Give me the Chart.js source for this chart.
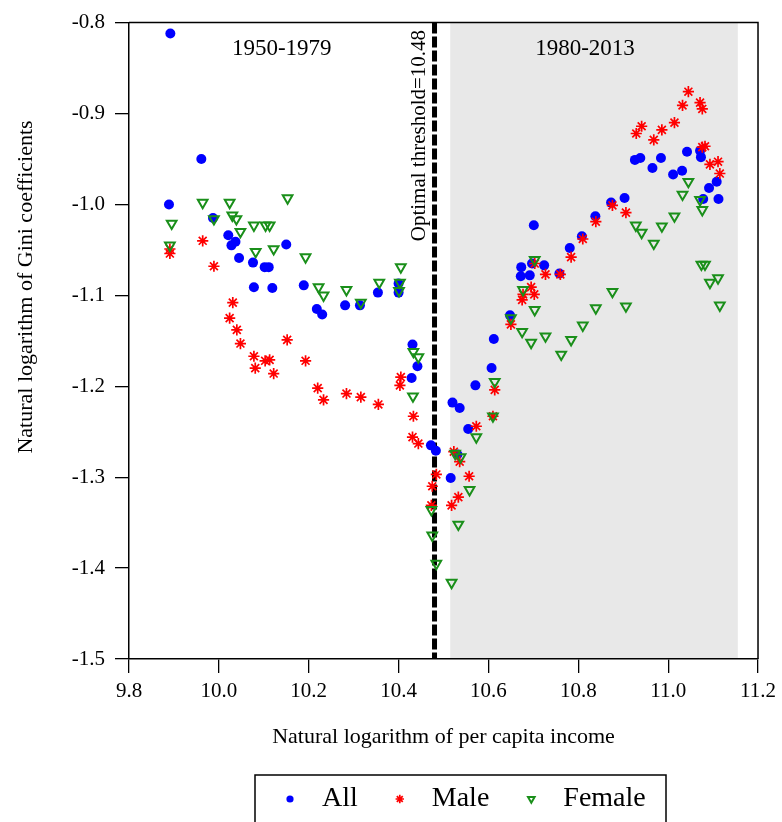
<!DOCTYPE html>
<html lang="en">
<head>
    <meta charset="UTF-8">
    <title>Gini coefficients and per capita income</title>
    <script src="https://cdnjs.cloudflare.com/ajax/libs/Chart.js/4.4.1/chart.umd.min.js"></script>
    <style>
        body {
            margin: 0;
            background: #ffffff;
        }

        .chart-container {
            position: relative;
            width: 782px;
            height: 822px;
        }
    </style>
</head>
<body>
<div class="chart-container">
    <canvas id="giniChart" width="782" height="822"></canvas>
</div>

<script>
    // ln(per capita income) / ln(Gini) pairs
    const allX = [9.892, 9.961, 9.889, 9.987, 10.021, 10.028, 10.037, 10.150, 10.045, 10.076, 10.102, 10.111, 10.078, 10.119, 10.189, 10.218, 10.230, 10.281, 10.314, 10.354, 10.400, 10.400, 10.431, 10.442, 10.429, 10.472, 10.483,
        10.516, 10.520, 10.536, 10.531, 10.555, 10.571, 10.607, 10.612, 10.648, 10.672, 10.692, 10.673, 10.697, 10.701, 10.724, 10.758, 10.781, 10.808, 10.838, 10.873, 10.903, 10.926, 10.938, 10.965, 10.984, 11.011, 11.031, 11.042, 11.071, 11.073, 11.078, 11.091, 11.108, 11.112];
    const allY = [-0.812, -0.950, -1.000, -1.015, -1.034, -1.045, -1.041, -1.044, -1.059, -1.064, -1.069, -1.069, -1.091, -1.092, -1.089, -1.115, -1.121, -1.111, -1.111, -1.097, -1.087, -1.097, -1.154, -1.178, -1.191, -1.265, -1.271,
        -1.301, -1.218, -1.224, -1.275, -1.247, -1.199, -1.180, -1.148, -1.122, -1.079, -1.078, -1.069, -1.065, -1.023, -1.067, -1.076, -1.048, -1.035, -1.013, -0.998, -0.993, -0.951, -0.949, -0.960, -0.949, -0.967, -0.963, -0.942, -0.941, -0.948, -0.994, -0.982, -0.975, -0.994];

    const maleX = [9.891, 9.891, 9.964, 9.989, 10.031, 10.024, 10.040, 10.048, 10.152, 10.078, 10.081, 10.103, 10.113, 10.122, 10.193, 10.220, 10.233, 10.284, 10.316, 10.355, 10.405, 10.403, 10.433, 10.431, 10.444, 10.484, 10.475, 10.473,
        10.523, 10.536, 10.557, 10.533, 10.518, 10.573, 10.610, 10.614, 10.650, 10.675, 10.677, 10.695, 10.702, 10.703, 10.727, 10.760, 10.784, 10.810, 10.839, 10.876, 10.906, 10.929, 10.941, 10.968, 10.986, 11.014, 11.032, 11.045, 11.071, 11.076, 11.076, 11.082, 11.093, 11.111, 11.115];
    const maleY = [-1.049, -1.054, -1.040, -1.068, -1.108, -1.125, -1.138, -1.153, -1.149, -1.167, -1.180, -1.172, -1.171, -1.186, -1.172, -1.202, -1.215, -1.208, -1.212, -1.220, -1.190, -1.199, -1.233, -1.256, -1.263, -1.297, -1.310, -1.331,
        -1.272, -1.283, -1.299, -1.322, -1.331, -1.244, -1.233, -1.204, -1.132, -1.105, -1.099, -1.091, -1.099, -1.065, -1.077, -1.077, -1.058, -1.038, -1.019, -1.001, -1.009, -0.922, -0.914, -0.929, -0.918, -0.910, -0.891, -0.876, -0.888, -0.895, -0.937, -0.936, -0.956, -0.953, -0.966];

    const femaleX = [9.964, 10.024, 10.153, 9.895, 9.989, 10.030, 10.039, 10.048, 10.078, 10.104, 10.113, 9.891, 10.082, 10.122, 10.193, 10.222, 10.233, 10.284, 10.316, 10.357, 10.405, 10.403, 10.401, 10.433, 10.444, 10.432, 10.473, 10.475, 10.484,
        10.518, 10.533, 10.526, 10.538, 10.558, 10.573, 10.610, 10.614, 10.650, 10.677, 10.703, 10.703, 10.675, 10.695, 10.727, 10.762, 10.784, 10.810, 10.839, 10.876, 10.906, 10.928, 10.941, 10.968, 10.986, 11.014, 11.032, 11.045, 11.071, 11.076, 11.074, 11.082, 11.093, 11.111, 11.115];
    const femaleY = [-0.998, -0.998, -0.993, -1.021, -1.016, -1.012, -1.016, -1.030, -1.023, -1.023, -1.023, -1.045, -1.052, -1.049, -1.058, -1.091, -1.100, -1.094, -1.108, -1.086, -1.069, -1.086, -1.095, -1.162, -1.168, -1.211, -1.336, -1.364, -1.395,
        -1.416, -1.352, -1.274, -1.278, -1.314, -1.256, -1.233, -1.195, -1.125, -1.094, -1.061, -1.116, -1.140, -1.152, -1.145, -1.165, -1.149, -1.133, -1.114, -1.096, -1.112, -1.023, -1.031, -1.043, -1.024, -1.013, -0.989, -0.975, -0.995, -1.006, -1.066, -1.066, -1.086, -1.081, -1.111];

    const xTicks = [9.8, 10.0, 10.2, 10.4, 10.6, 10.8, 11.0, 11.2];
    const yTicks = [-0.8, -0.9, -1.0, -1.1, -1.2, -1.3, -1.4, -1.5];

    const threshold = 10.48;
    const shadeRange = [10.515, 11.155];
    const periodNames = ['1950-1979', '1980-2013'];

    const SERIF = "'Liberation Serif', 'Times New Roman', serif";
    Chart.defaults.font.family = SERIF;
    Chart.defaults.color = '#000';

    function toPoints(xs, ys) {
        return xs.map((x, i) => ({ x: x, y: ys[i] }));
    }

    // shaded period, threshold line, in-plot labels, frame and legend box
    const decorations = {
        id: 'decorations',
        beforeDraw(chart) {
            const { ctx, chartArea: area, scales: { x, y } } = chart;
            ctx.save();

            const x0 = x.getPixelForValue(shadeRange[0]);
            const x1 = x.getPixelForValue(shadeRange[1]);
            ctx.fillStyle = '#e8e8e8';
            ctx.fillRect(x0, area.top, x1 - x0, area.bottom - area.top);

            const tx = x.getPixelForValue(threshold);
            ctx.strokeStyle = '#000';
            ctx.lineWidth = 5;
            ctx.setLineDash([11, 3]);
            ctx.beginPath();
            ctx.moveTo(tx, area.top);
            ctx.lineTo(tx, area.bottom);
            ctx.stroke();
            ctx.setLineDash([]);

            ctx.fillStyle = '#000';
            ctx.font = '23px ' + SERIF;
            ctx.textAlign = 'center';
            ctx.textBaseline = 'alphabetic';
            ctx.fillText(periodNames[0], x.getPixelForValue(10.14), area.top + 32);
            ctx.fillText(periodNames[1], x.getPixelForValue(10.815), area.top + 32);

            // rotated threshold label, just left of the dashed line
            ctx.save();
            ctx.translate(tx - 15, area.top + 113);
            ctx.rotate(-Math.PI / 2);
            ctx.font = '21px ' + SERIF;
            ctx.textBaseline = 'middle';
            ctx.fillText('Optimal threshold=' + threshold.toFixed(2), 0, 0);
            ctx.restore();

            // y axis title
            ctx.save();
            ctx.translate(26, 287);
            ctx.rotate(-Math.PI / 2);
            ctx.font = '22px ' + SERIF;
            ctx.textBaseline = 'middle';
            ctx.fillText('Natural logarithm of Gini coefficients', 0, 0);
            ctx.restore();

            ctx.restore();
        },
        afterDraw(chart) {
            const { ctx, chartArea: area } = chart;
            ctx.save();
            ctx.strokeStyle = '#000';
            ctx.lineWidth = 1.5;
            ctx.beginPath();
            ctx.moveTo(area.left, area.top);
            ctx.lineTo(area.right, area.top);
            ctx.lineTo(area.right, area.bottom);
            ctx.stroke();

            // legend
            ctx.strokeRect(255, 775, 411, 80);
            ctx.font = '28px ' + SERIF;
            ctx.textAlign = 'left';
            ctx.textBaseline = 'alphabetic';
            let mx = 290;
            chart.data.datasets.forEach(ds => {
                ctx.fillStyle = ds.backgroundColor;
                ctx.strokeStyle = ds.borderColor;
                ctx.lineWidth = ds.borderWidth;
                Chart.helpers.drawPoint(ctx, {
                    pointStyle: ds.pointStyle,
                    rotation: ds.rotation || 0,
                    radius: ds.legendRadius,
                    borderWidth: ds.borderWidth
                }, mx, 799);
                ctx.fillStyle = '#000';
                ctx.fillText(ds.label, mx + 32, 806);
                mx += 32 + ctx.measureText(ds.label).width + 42;
            });
            ctx.restore();
        }
    };

    const ctx = document.getElementById('giniChart').getContext('2d');
    new Chart(ctx, {
        type: 'scatter',
        data: {
            datasets: [
                {
                    label: 'All',
                    data: toPoints(allX, allY),
                    pointStyle: 'circle',
                    pointRadius: 5,
                    legendRadius: 3.6,
                    backgroundColor: '#0000ff',
                    borderColor: '#0000ff',
                    borderWidth: 0,
                    order: 3
                },
                {
                    label: 'Male',
                    data: toPoints(maleX, maleY),
                    pointStyle: 'star',
                    pointRadius: 5.6,
                    legendRadius: 4.2,
                    backgroundColor: '#ff0000',
                    borderColor: '#ff0000',
                    borderWidth: 1.7,
                    order: 2
                },
                {
                    label: 'Female',
                    data: toPoints(femaleX, femaleY),
                    pointStyle: 'triangle',
                    rotation: 180,
                    pointRotation: 180,
                    pointRadius: 5.6,
                    legendRadius: 3.8,
                    backgroundColor: 'rgba(0,0,0,0)',
                    borderColor: '#1a8f1a',
                    borderWidth: 2,
                    order: 1
                }
            ]
        },
        options: {
            responsive: false,
            animation: false,
            layout: {
                padding: { top: 21, right: 22, bottom: 0, left: 0 }
            },
            plugins: {
                legend: { display: false },
                tooltip: { enabled: true }
            },
            scales: {
                x: {
                    type: 'linear',
                    min: 9.8,
                    max: 11.2,
                    afterBuildTicks: scale => {
                        scale.ticks = xTicks.map(v => ({ value: v }));
                    },
                    afterFit: scale => {
                        scale.height = 163;
                    },
                    ticks: {
                        padding: 6,
                        font: { size: 21 },
                        callback: value => value.toFixed(1)
                    },
                    grid: {
                        drawOnChartArea: false,
                        tickLength: 14,
                        color: '#000',
                        lineWidth: 1.3
                    },
                    border: { color: '#000', width: 1.5 },
                    title: {
                        display: true,
                        text: 'Natural logarithm of per capita income',
                        font: { size: 22 },
                        padding: { top: 0, bottom: 72 }
                    }
                },
                y: {
                    type: 'linear',
                    min: -1.5,
                    max: -0.8,
                    afterBuildTicks: scale => {
                        scale.ticks = yTicks.map(v => ({ value: v }));
                    },
                    afterFit: scale => {
                        scale.width = 129;
                    },
                    ticks: {
                        padding: 10,
                        font: { size: 21 },
                        callback: value => value.toFixed(1)
                    },
                    grid: {
                        drawOnChartArea: false,
                        tickLength: 14,
                        color: '#000',
                        lineWidth: 1.3
                    },
                    border: { color: '#000', width: 1.5 }
                }
            }
        },
        plugins: [decorations]
    });
</script>
</body>
</html>
